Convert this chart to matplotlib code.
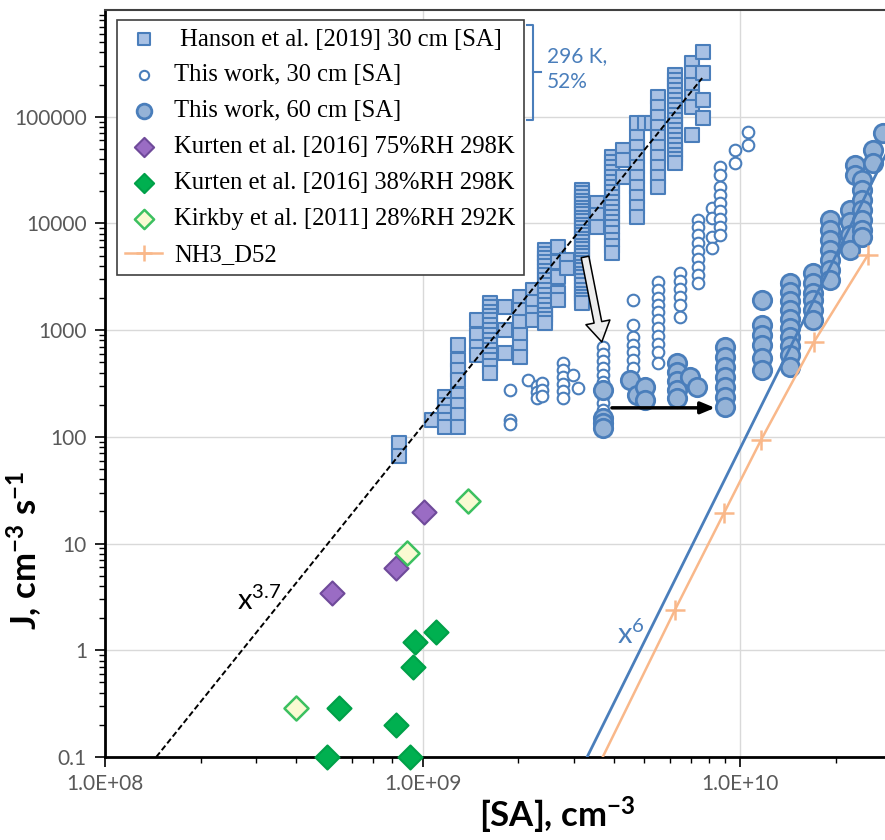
import numpy as np
import matplotlib.pyplot as plt
from matplotlib.lines import Line2D
from matplotlib.ticker import LogLocator, NullFormatter

plt.rcParams['font.family'] = ['Lato', 'DejaVu Sans']
plt.rcParams['mathtext.default'] = 'regular'

# =========================
# Data
# =========================

# Hanson et al. [2019] 30 cm - columns of squares
hanson_x = [8.44e8, 1.07e9, 1.18e9, 1.29e9, 1.49e9, 1.63e9, 1.82e9, 2.03e9,
            2.23e9, 2.43e9, 2.67e9, 2.85e9, 3.18e9, 3.55e9, 3.95e9, 4.28e9,
            4.74e9, 5.02e9, 5.28e9, 5.52e9, 6.24e9, 7.06e9, 7.64e9]
hanson_j = [
    [88, 66],
    [144],
    [237, 199, 171, 144, 124],
    [727, 526, 424, 341, 247, 199, 160, 124],
    [1247, 902, 696, 586],
    [1799, 1630, 1481, 1360, 1247, 1120, 1004, 900, 809, 725, 652, 585,
     526, 460, 397],
    [1650, 1004, 611],
    [2047, 1547, 1194, 902, 696, 561],
    [2382, 1837, 1449, 1247],
    [5645, 5180, 4750, 4360, 3996, 3620, 3290, 2950, 2652, 2380, 2138,
     1920, 1723, 1550, 1388, 1270, 1168],
    [6022, 4357, 3153, 2233, 1919],
    [4550, 3828],
    [20600, 19100, 17700, 16400, 15200, 14100, 13100, 12150, 11270, 10450,
     9680, 9000, 8320, 7720, 7160, 6640, 6150, 5700, 5290, 4900, 4550,
     4220, 3910, 3630, 3360, 3120, 2890, 2640, 2382, 2200, 2047, 1920, 1799],
    [15560, 12020, 9270],
    [42000, 37700, 33870, 30400, 27290, 24500, 21990, 19700, 17700, 15900,
     14280, 12800, 11510, 10300, 9270, 8050, 7000, 6100, 5290],
    [48860, 39360, 27290],
    [87500, 64700, 52100, 42000, 33870, 27290, 21990, 17700, 14280, 11510],
    [87500],
    [87500],
    [153400, 123600, 99600, 80200, 64700, 52100, 42000, 33870, 27290, 21990],
    [246500, 221000, 198600, 178000, 160000, 143500, 129000, 116000, 104000,
     93400, 83800, 75200, 67500, 60600, 54400, 48900, 43900, 40200, 36900],
    [319000, 257500, 198600, 153400, 123600, 67500],
    [405000, 257500, 143600, 97500],
]

# This work, 30 cm - open circles
w30_x = [1.89e9, 2.15e9, 2.29e9, 2.38e9, 2.77e9, 2.98e9, 3.09e9, 3.71e9,
         4.61e9, 5.52e9, 6.48e9, 7.38e9, 8.17e9, 8.66e9, 9.65e9, 1.06e10]
w30_j = [
    [275, 144, 132],
    [341],
    [300, 264, 232],
    [320, 275, 242],
    [493, 424, 364, 313, 269, 232],
    [380],
    [287],
    [696, 598, 514, 442, 380, 327, 242, 208, 179],
    [1919, 1119, 863, 727, 625, 526, 442],
    [2830, 2382, 2004, 1723, 1481, 1247, 1049, 883, 743, 625, 493],
    [3436, 2890, 2432, 2047, 1723, 1330],
    [10790, 9270, 7800, 6560, 5520, 4650, 3910, 3290, 2770],
    [13970, 11270, 7470, 5890],
    [33870, 28500, 21990, 18490, 15560, 13100, 11020, 9270, 7800],
    [48860, 36900],
    [72100, 54400],
]

# This work, 60 cm - filled circles
w60_x = [3.71e9, 4.51e9, 4.74e9, 5.02e9, 6.34e9, 6.96e9, 7.33e9, 8.97e9,
         1.17e10, 1.44e10, 1.70e10, 1.92e10, 2.22e10, 2.30e10, 2.42e10,
         2.62e10, 2.82e10]
w60_j = [
    [275, 150, 135, 121],
    [341],
    [247],
    [294, 222],
    [493, 406, 334, 275, 232],
    [364],
    [294],
    [696, 561, 452, 364, 294, 237, 191],
    [1919, 1119, 902, 727, 549, 424],
    [2770, 2280, 1878, 1547, 1274, 1049, 863, 711, 586, 452],
    [3436, 2770, 2233, 1919, 1547, 1247],
    [10790, 8690, 7000, 5645, 4550, 3665, 2950],
    [13390, 10330, 7800, 5645],
    [35320, 28500],
    [25590, 20600, 16570, 13390, 10790, 8690, 7470],
    [48860, 36900],
    [70500],
]

# Kurten et al. [2016] 75%RH 298K
k75_x = [5.19e8, 8.26e8, 1.01e9]
k75_j = [3.44, 5.9, 19.8]

# Kurten et al. [2016] 38%RH 298K
k38_x = [5.0e8, 5.46e8, 8.26e8, 9.14e8, 9.34e8, 9.47e8, 1.10e9]
k38_j = [0.1, 0.29, 0.2, 0.1, 0.70, 1.2, 1.48]

# Kirkby et al. [2011] 28%RH 292K
kirkby_x = [4.0e8, 8.93e8, 1.39e9]
kirkby_j = [0.29, 8.2, 25.1]

# NH3_D52 model
nh3_x = [3.03e9, 6.24e9, 8.91e9, 1.165e10, 1.71e10, 2.53e10]
nh3_j = [0.03, 2.39, 19.4, 93.6, 775, 5070]

# power-law guide lines
p37_x = [1.45e8, 7.6e9]
p37_exp = 3.7
p6_x = [3.3e9, 3.0e10]
p6_exp = 6


def flatten(xs, js):
    fx, fy = [], []
    for x, col in zip(xs, js):
        fx += [x] * len(col)
        fy += col
    return fx, fy


hx, hy = flatten(hanson_x, hanson_j)
ax30, ay30 = flatten(w30_x, w30_j)
ax60, ay60 = flatten(w60_x, w60_j)

# =========================
# Figure
# =========================

W, H = 885, 840
fig = plt.figure(figsize=(W / 100, H / 100), dpi=100)
ax = fig.add_axes([105 / W, 83 / H, 780 / W, 747 / H])
ax.set_xscale('log')
ax.set_yscale('log')
ax.set_xlim(1e8, 10 ** (8 + 780 / 317.5))
ax.set_ylim(0.1, 1e6)

blue = '#4a7ebb'

ax.scatter(hx, hy, marker='s', s=115, facecolor='#a9c1e4', edgecolor=blue,
           linewidth=1.5, zorder=3, label=' Hanson et al. [2019] 30 cm [SA]')
ax.scatter(ax30, ay30, marker='o', s=70, facecolor='white', edgecolor=blue,
           linewidth=1.5, zorder=4, label='This work, 30 cm [SA]')
ax.scatter(ax60, ay60, marker='o', s=175, facecolor='#95b3d7', edgecolor=blue,
           linewidth=2, zorder=5, label='This work, 60 cm [SA]')
ax.scatter(k75_x, k75_j, marker='D', s=150, facecolor='#9a6cc4', edgecolor='#6f4a9a',
           linewidth=1.5, zorder=5, label='Kurten et al. [2016] 75%RH 298K')
ax.scatter(k38_x, k38_j, marker='D', s=150, facecolor='#00b050', edgecolor='#00a048',
           linewidth=1.5, zorder=5, label='Kurten et al. [2016] 38%RH 298K', clip_on=False)
ax.scatter(kirkby_x, kirkby_j, marker='D', s=150, facecolor='#fafad2', edgecolor='#3cc060',
           linewidth=1.8, zorder=5, label='Kirkby et al. [2011] 28%RH 292K')

# guide lines
x37 = np.array(p37_x)
ax.plot(x37, 0.1 * (x37 / p37_x[0]) ** p37_exp, color='black', ls=(0, (3, 1.5)),
        lw=1.4, zorder=6)
x6 = np.array(p6_x)
ax.plot(x6, 0.1 * (x6 / p6_x[0]) ** p6_exp, color=blue, lw=2, zorder=6)

ax.plot(nh3_x, nh3_j, color='#f9b88a', lw=1.8, marker='+', ms=14, mew=1.8,
        zorder=7, label='NH3_D52')

ax.text(2.6e8, 2.4, 'x$^{3.7}$', fontsize=21, color='black')
ax.text(4.1e9, 1.15, 'x$^{6}$', fontsize=21, color=blue)

# arrows
ax.annotate('', xy=(3.67e9, 775), xytext=(3.25e9, 4850),
            arrowprops=dict(arrowstyle='simple,head_width=1.1,head_length=0.9,tail_width=0.35',
                            fc='#eeeeee', ec='black', lw=1.1, mutation_scale=16,
                            shrinkA=0, shrinkB=0), zorder=8)
ax.annotate('', xy=(8.34e9, 187), xytext=(3.95e9, 187),
            arrowprops=dict(arrowstyle='-|>,head_width=0.25,head_length=0.6',
                            color='black', lw=2.5, mutation_scale=14,
                            shrinkA=0, shrinkB=0), zorder=8)

# bracket and its note
def px(x, y):
    return x / W, 1 - y / H

bx = [px(527, 25), px(533, 25), px(533, 120), px(527, 120)]
fig.add_artist(Line2D([p[0] for p in bx], [p[1] for p in bx], color=blue, lw=1.5))
fig.add_artist(Line2D([px(533, 72)[0], px(541, 72)[0]], [px(533, 72)[1]] * 2,
                      color=blue, lw=1.5))
fig.text(*px(547, 88), '296 K,\n52%', fontsize=15, color=blue, linespacing=1.4)

# axes styling
ax.set_xticks([1e8, 1e9, 1e10])
ax.set_xticklabels(['1.0E+08', '1.0E+09', '1.0E+10'])
ax.set_yticks([0.1, 1, 10, 100, 1000, 10000, 100000])
ax.set_yticklabels(['0.1', '1', '10', '100', '1000', '10000', '100000'])
ax.xaxis.set_minor_locator(LogLocator(base=10, subs=np.arange(2, 10)))
ax.yaxis.set_minor_locator(LogLocator(base=10, subs=np.arange(2, 10)))
ax.xaxis.set_minor_formatter(NullFormatter())
ax.yaxis.set_minor_formatter(NullFormatter())
ax.tick_params(which='major', direction='out', length=7, width=1.2,
               labelsize=15, labelcolor='#595959', pad=6)
ax.tick_params(which='minor', direction='out', length=4, width=1)
ax.tick_params(axis='x', pad=5)

ax.grid(True, which='major', color='#d9d9d9', lw=1)
ax.set_axisbelow(True)
for s in ['left', 'bottom']:
    ax.spines[s].set_linewidth(2)
ax.spines['top'].set_color('#404040')
ax.spines['top'].set_linewidth(1.5)
ax.spines['right'].set_visible(False)

# the original axes run past the cropped right/top edges, so the titles sit off-centre
label_font = {'family': ['Lato', 'DejaVu Sans'], 'size': 25, 'weight': 'bold'}
ax.set_xlabel('[SA], cm$^{-3}$', fontdict=label_font)
ax.set_ylabel('J, cm$^{-3}$ s$^{-1}$', fontdict=label_font)
ax.xaxis.set_label_coords(0.58, -0.051)
ax.yaxis.set_label_coords(-0.077, 0.277)

leg = ax.legend(loc='upper left', bbox_to_anchor=(0.015, 0.987), borderaxespad=0,
                prop={'family': 'Liberation Serif', 'size': 17.7}, frameon=True,
                fancybox=False, edgecolor='#404040', framealpha=1,
                labelspacing=0.56, handletextpad=0.5, borderpad=0.35,
                handlelength=1.5, markerscale=0.8)
leg.get_frame().set_linewidth(1.2)
leg.set_zorder(10)

fig.savefig('out.png', dpi=100)
